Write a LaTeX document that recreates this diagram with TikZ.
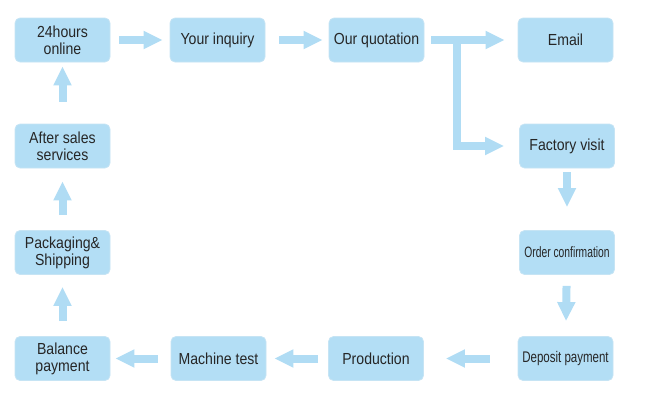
\documentclass[tikz,border=0pt]{standalone}
\usepackage{fontspec}
\setmainfont{Liberation Sans}[FakeStretch=0.88]
\usetikzlibrary{arrows.meta}
\definecolor{boxblue}{RGB}{179,222,245}
\definecolor{boxedge}{RGB}{198,228,244}
\definecolor{arrowblue}{RGB}{176,220,244}
\begin{document}
\begin{tikzpicture}[x=1pt, y=-1pt,
	stage/.style={fill=boxblue, draw=boxedge, line width=0.8pt, rounded corners=5pt, minimum width=95pt, minimum height=44pt, inner sep=0pt, align=center, text=black!85, font=\fontsize{16}{17}\selectfont},
	flow/.style={draw=arrowblue, line width=8pt, -{Triangle[length=19pt, width=17pt]}}]
	\useasboundingbox (0, 0) rectangle (646, 400);

	\node [stage] (online) at (62.5, 40) {24hours\\online};
	\node [stage] (inquiry) at (217.5, 40) {Your inquiry};
	\node [stage] (quotation) at (376.5, 40) {Our quotation};
	\node [stage] (email) at (565.5, 40) {Email};

	\node [stage] (factory) at (567, 146) {Factory visit};
	\node [stage, font=\fontsize{15}{16}\selectfont] (order) at (567, 252.5) {\scalebox{0.78}[1]{Order confirmation}};
	\node [stage, font=\fontsize{15.4}{16}\selectfont] (deposit) at (565.5, 358.5) {\scalebox{0.85}[1]{Deposit payment}};

	\node [stage] (production) at (376, 358.5) {Production};
	\node [stage] (machine) at (218.5, 358.5) {Machine test};
	\node [stage] (balance) at (62.5, 358.5) {Balance\\payment};

	\node [stage] (packaging) at (62.5, 252.5) {Packaging\&\\Shipping};
	\node [stage] (aftersales) at (62.5, 146) {After sales\\services};

	\coordinate (fork) at (457, 40);

	\draw [flow, shorten <=9pt, shorten >=7pt] (online) to (inquiry);
	\draw [flow, shorten <=14pt, shorten >=6pt] (inquiry) to (quotation);
	\draw [flow, shorten <=7pt, shorten >=13pt] (quotation) to (email);
	\draw [flow, shorten >=15pt] (fork) |- (factory);

	\draw [flow, shorten <=4pt, shorten >=23pt] (factory) to (order);
	\draw [flow, shorten <=11pt, shorten >=15pt] (order) to (deposit);

	\draw [flow, shorten <=28pt, shorten >=22pt] (deposit) to (production);
	\draw [flow, shorten <=10pt, shorten >=8pt] (production) to (machine);
	\draw [flow, shorten <=13pt, shorten >=5pt] (machine) to (balance);

	\draw [flow, shorten <=15pt, shorten >=12pt] (balance) to (packaging);
	\draw [flow, shorten <=15pt, shorten >=13pt] (packaging) to (aftersales);
	\draw [flow, shorten <=22pt, shorten >=4pt] (aftersales) to (online);
\end{tikzpicture}
\end{document}
